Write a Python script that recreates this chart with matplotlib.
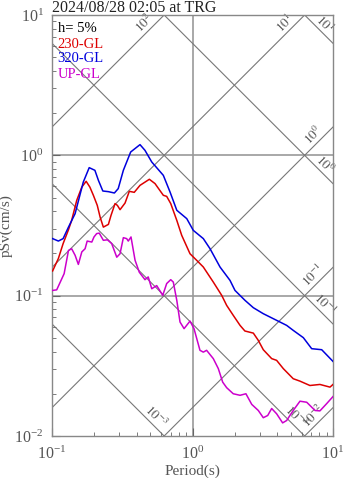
import numpy as np
import matplotlib
matplotlib.use("Agg")
import matplotlib.pyplot as plt

plt.rcParams['font.family'] = ['Liberation Serif', 'DejaVu Serif']
plt.rcParams['mathtext.fontset'] = 'stix'

# ---- data ----
T_320 = [0.101, 0.111, 0.120, 0.131, 0.146, 0.167, 0.184, 0.202, 0.214, 0.230, 0.252, 0.278,
         0.296, 0.322, 0.363, 0.423, 0.459, 0.513, 0.620, 0.692, 0.773, 0.910, 1.013, 1.194,
         1.333, 1.570, 1.849, 2.006, 2.364, 2.709, 3.19, 3.97, 4.68, 5.21, 6.15, 7.05, 8.31, 10.0]
S_320 = [0.255, 0.245, 0.255, 0.308, 0.384, 0.645, 0.817, 0.782, 0.663, 0.557, 0.551, 0.539,
         0.579, 0.782, 1.056, 1.192, 1.085, 0.896, 0.720, 0.548, 0.406, 0.354, 0.292, 0.255,
         0.216, 0.160, 0.1285, 0.109, 0.0926, 0.0821, 0.0744, 0.0667, 0.0614, 0.0566, 0.0502,
         0.0419, 0.0412, 0.034]

T_230 = [0.101, 0.111, 0.120, 0.131, 0.138, 0.150, 0.163, 0.175, 0.186, 0.197, 0.210, 0.220,
         0.232, 0.252, 0.263, 0.281, 0.292, 0.305, 0.331, 0.355, 0.385, 0.423, 0.493, 0.541,
         0.620, 0.655, 0.700, 0.773, 0.838, 0.960, 1.099, 1.194, 1.406, 1.614, 1.75, 1.95,
         2.18, 2.36, 2.71, 2.94, 3.19, 3.66, 3.97, 4.43, 5.21, 5.82, 6.85, 8.07, 9.52, 10.0]
S_230 = [0.150, 0.184, 0.235, 0.295, 0.344, 0.478, 0.594, 0.653, 0.594, 0.519, 0.440, 0.363,
         0.308, 0.322, 0.373, 0.453, 0.440, 0.410, 0.457, 0.554, 0.545, 0.611, 0.675, 0.629,
         0.519, 0.510, 0.453, 0.344, 0.269, 0.199, 0.174, 0.160, 0.125, 0.1005, 0.0853, 0.0724,
         0.0614, 0.0560, 0.0541, 0.0480, 0.0412, 0.0356, 0.0346, 0.0302, 0.0256, 0.0246,
         0.0229, 0.0233, 0.0223, 0.0233]

T_up = [0.101, 0.108, 0.122, 0.131, 0.138, 0.146, 0.154, 0.163, 0.172, 0.178, 0.192, 0.199,
        0.208, 0.217, 0.232, 0.248, 0.266, 0.289, 0.305, 0.322, 0.340, 0.349, 0.365, 0.390,
        0.418, 0.459, 0.484, 0.513, 0.556, 0.614, 0.655, 0.700, 0.730, 0.773, 0.815, 0.871,
        0.960, 1.025, 1.13, 1.194, 1.26, 1.406, 1.527, 1.64, 1.75, 1.95, 2.18, 2.40, 2.64,
        2.94, 3.19, 3.43, 3.66, 3.97, 4.38, 4.68, 5.21, 5.82, 6.50, 7.45, 8.07, 9.01, 10.0]
S_up = [0.109, 0.110, 0.1435, 0.210, 0.216, 0.194, 0.167, 0.205, 0.216, 0.245, 0.241, 0.262,
        0.277, 0.279, 0.248, 0.250, 0.235, 0.188, 0.199, 0.259, 0.255, 0.245, 0.262, 0.179,
        0.147, 0.130, 0.136, 0.112, 0.118, 0.1005, 0.122, 0.130, 0.125, 0.0926, 0.0649, 0.0582,
        0.0659, 0.0582, 0.0408, 0.0396, 0.0408, 0.0356, 0.0302, 0.0242, 0.0221, 0.0200, 0.0195,
        0.0200, 0.0168, 0.0152, 0.0135, 0.0140, 0.0157, 0.0144, 0.0124, 0.0129, 0.0152, 0.0177,
        0.0174, 0.0152, 0.0151, 0.0170, 0.0191]

series_names = ['230-GL', '320-GL', 'UP-GL']
series_colors = ['#dd0000', '#0000dd', '#cc00cc']

Sd_values = [10, 1, 0.1, 0.01, 0.001]
Sd_labels = ['$10^{1}$', '$10^{0}$', '$10^{-1}$', '$10^{-3}$', '$10^{-3}$']
Sa_values = [100, 10, 1, 0.1, 0.01]
Sa_labels = ['$10^{2}$', '$10^{1}$', '$10^{0}$', '$10^{-1}$', '$10^{-2}$']

title = '2024/08/28 02:05 at TRG'
damping_text = 'h= 5%'

# ---- figure ----
W, H = 347, 478
fig = plt.figure(figsize=(W / 100, H / 100), dpi=100)
ax = fig.add_axes([52 / W, 1 - 436 / H, 281 / W, 421 / H])
ax.set_xscale('log')
ax.set_yscale('log')
ax.set_xlim(0.1, 10)
ax.set_ylim(0.01, 10)

gray_txt = '#555555'
diag_col = '#777777'
grid_col = '#999999'

ax.axvline(1, color=grid_col, lw=1.2, zorder=1)
for yv in (0.1, 1):
    ax.axhline(yv, color=grid_col, lw=1.2, zorder=1)

Tg = np.logspace(-1, 1, 200)
a, b = 0.1, 0.04
for sd, lab in zip(Sd_values, Sd_labels):
    sv = 2 * np.pi * sd / Tg
    ax.plot(Tg, sv, color=diag_col, lw=0.8, zorder=1)
    Te = min(10.0, 2 * np.pi * sd / 0.01)
    Se = 2 * np.pi * sd / Te
    lx = np.log10(Te) - a + b
    ly = np.log10(Se) + a + b
    ax.text(10 ** lx, 10 ** ly, lab, rotation=-45, ha='center', va='center',
            rotation_mode='anchor', fontsize=9.5, color=gray_txt, zorder=2)
for sa, lab in zip(Sa_values, Sa_labels):
    sv = sa * Tg / (2 * np.pi)
    ax.plot(Tg, sv, color=diag_col, lw=0.8, zorder=1)
    Te = min(10.0, 2 * np.pi * 10 / sa)
    Se = sa * Te / (2 * np.pi)
    lx = np.log10(Te) - a - b
    ly = np.log10(Se) - a + b
    ax.text(10 ** lx, 10 ** ly, lab, rotation=45, ha='center', va='center',
            rotation_mode='anchor', fontsize=9.5, color=gray_txt, zorder=2)

ax.plot(T_230, S_230, color=series_colors[0], lw=1.1, zorder=3)
ax.plot(T_320, S_320, color=series_colors[1], lw=1.1, zorder=3)
ax.plot(T_up, S_up, color=series_colors[2], lw=1.1, zorder=3)

ax.text(0.02, 1 - (29 - 15) / 421, damping_text, transform=ax.transAxes,
        fontsize=10.5, color='black', va='center', ha='left', zorder=4)
ys = [44, 59, 74]
for name, col, yy in zip(series_names, series_colors, ys):
    ax.text(0.02, 1 - (yy - 15) / 421, name, transform=ax.transAxes,
            fontsize=10.5, color=col, va='center', ha='left', zorder=4)

for sp in ax.spines.values():
    sp.set_color('#888888')
    sp.set_linewidth(1.0)
ax.tick_params(which='both', direction='in', colors='#666666', labelcolor=gray_txt,
               labelsize=11.5, top=False, right=False)
ax.tick_params(which='major', length=6)
ax.tick_params(which='minor', length=3)
ax.tick_params(axis='x', pad=7)
ax.tick_params(axis='y', pad=6)

ax.set_xlabel('Period(s)', fontsize=11, color=gray_txt, labelpad=1)
ax.set_ylabel('pSv(cm/s)', fontsize=11, color=gray_txt, labelpad=1)

fig.text(52 / W, 1 - 12 / H, title, fontsize=11.5, color='#222222', ha='left', va='baseline')

fig.savefig('out.png', dpi=100)
